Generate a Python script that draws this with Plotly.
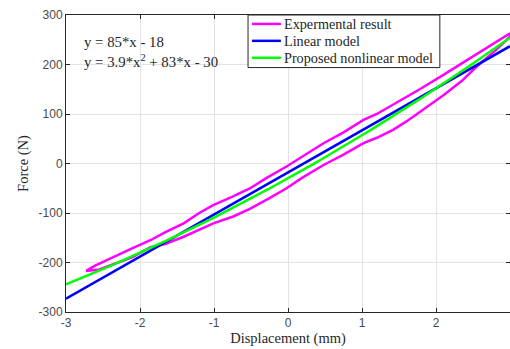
import numpy as np
import plotly.graph_objects as go

# Measured force-displacement hysteresis loop (mm, N)
loading_x = [-2.73, -2.55, -2.35, -2.1, -1.86, -1.65, -1.41, -1.2, -1.01, -0.74, -0.51,
             -0.25, -0.02, 0.2, 0.48, 0.75, 1.02, 1.2, 1.42, 1.6, 1.78, 2.1, 2.35, 2.55,
             2.8, 3.0]
loading_f = [-217, -214, -203, -189, -169, -162, -148, -133, -121, -107, -91,
             -70, -50, -28, -3, 18, 41, 52, 68, 85, 104, 138, 167, 196,
             228, 256]
unloading_x = [3.0, 2.8, 2.6, 2.35, 2.1, 1.78, 1.6, 1.38, 1.2, 1.02, 0.75, 0.48, 0.2,
               -0.02, -0.3, -0.51, -0.75, -1.01, -1.2, -1.41, -1.65, -1.86, -2.1, -2.3,
               -2.46, -2.6, -2.73]
unloading_f = [263, 244, 225, 202, 179, 150, 135, 115, 100, 88, 63, 41, 15,
               -6, -30, -50, -67, -84, -100, -121, -138, -155, -171, -185,
               -197, -206, -217]

# Model coefficients
lin_a, lin_b = 85, -18
quad_a, quad_b, quad_c = 3.9, 83, -30

series_names = ["Expermental result", "Linear model", "Proposed nonlinear model"]
series_colors = ["#ff00ff", "#0000ff", "#00ff00"]

x_range = [-3, 3]
y_range = [-300, 300]
x_ticks = [-3, -2, -1, 0, 1, 2, 3]
y_ticks = [-300, -200, -100, 0, 100, 200, 300]

xm = np.linspace(x_range[0], x_range[1], 200)
lin_f = lin_a * xm + lin_b
quad_f = quad_a * xm ** 2 + quad_b * xm + quad_c

exp_x = loading_x + unloading_x
exp_f = loading_f + unloading_f

serif = "Liberation Serif, Times New Roman, serif"
sans = "Liberation Sans, Arial, sans-serif"
ink = "#262626"
line_w = 2.5

fig = go.Figure()
for (xs, ys), name, color in zip([(exp_x, exp_f), (xm, lin_f), (xm, quad_f)],
                                 series_names, series_colors):
    fig.add_trace(go.Scatter(x=xs, y=ys, mode="lines", name=name,
                             line=dict(color=color, width=line_w), showlegend=False))

axis_common = dict(
    showgrid=True, gridcolor="#e3e3e3", gridwidth=1,
    showline=True, linecolor=ink, linewidth=1, mirror="ticks",
    ticks="inside", ticklen=4, tickcolor=ink,
    zeroline=False,
    tickfont=dict(family=sans, size=12, color="#4a4a4a"),
)

fig.update_xaxes(range=x_range, tickvals=x_ticks, ticktext=[str(v) for v in x_ticks],
                 title=dict(text="Displacement (mm)", font=dict(family=serif, size=14.5, color=ink),
                            standoff=3),
                 **axis_common)
fig.update_yaxes(range=y_range, tickvals=y_ticks, ticktext=[str(v) for v in y_ticks],
                 title=dict(text="Force (N)", font=dict(family=serif, size=14.5, color=ink),
                            standoff=6),
                 **axis_common)

# Equations of the fitted models
fig.add_annotation(x=0.036, y=0.908, xref="paper", yref="paper", xanchor="left", yanchor="middle",
                   text="y = 85*x - 18", showarrow=False,
                   font=dict(family=serif, size=14.8, color=ink))
fig.add_annotation(x=0.036, y=0.845, xref="paper", yref="paper", xanchor="left", yanchor="middle",
                   text="y = 3.9*x<sup>2</sup> + 83*x - 30", showarrow=False,
                   font=dict(family=serif, size=14.8, color=ink))

# Compact boxed legend (paper coordinates)
leg_x0, leg_x1, leg_y0, leg_y1 = 0.41, 0.842, 0.823, 1.0
sample_x0, sample_x1, label_x = 0.419, 0.484, 0.486
row_y = [0.970, 0.913, 0.856]
fig.add_shape(type="rect", xref="paper", yref="paper", x0=leg_x0, x1=leg_x1, y0=leg_y0, y1=leg_y1,
              line=dict(color=ink, width=1), fillcolor="white", layer="above")
for name, color, ry in zip(series_names, series_colors, row_y):
    fig.add_shape(type="line", xref="paper", yref="paper", x0=sample_x0, x1=sample_x1, y0=ry, y1=ry,
                  line=dict(color=color, width=line_w), layer="above")
    fig.add_annotation(x=label_x, y=ry, xref="paper", yref="paper", xanchor="left", yanchor="middle",
                       text=name, showarrow=False, font=dict(family=serif, size=14.2, color=ink))

fig.update_layout(
    width=510, height=349,
    margin=dict(l=66, r=0, t=15, b=37),
    paper_bgcolor="white", plot_bgcolor="white",
    showlegend=False,
)

fig.write_html("out.html")
